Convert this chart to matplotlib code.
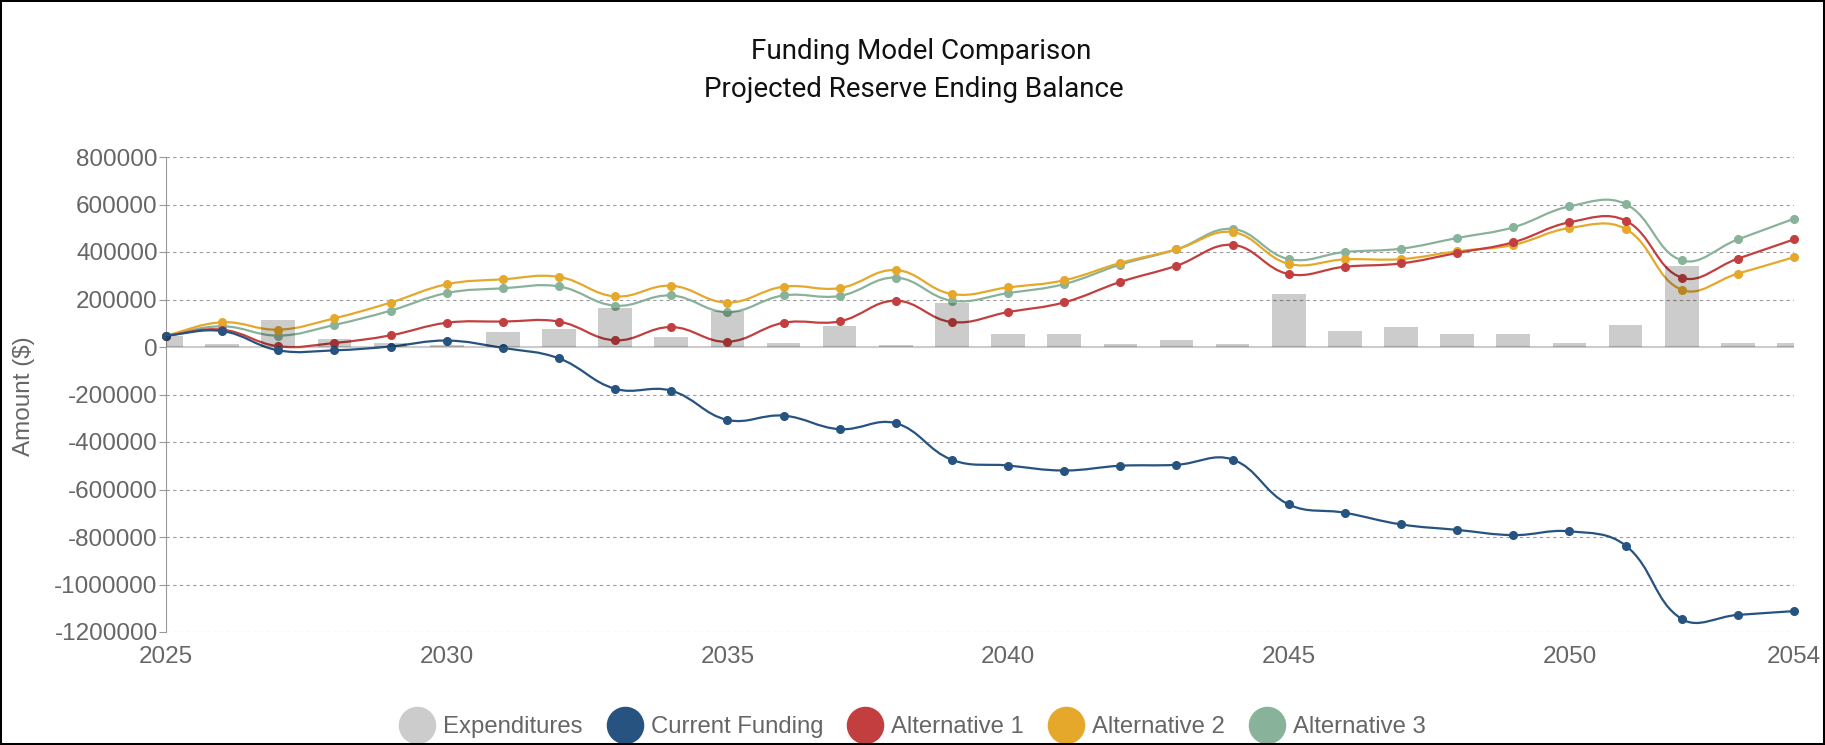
import matplotlib
matplotlib.use('Agg')
import matplotlib.pyplot as plt
import numpy as np
from matplotlib.path import Path
from matplotlib.patches import PathPatch, Rectangle
from matplotlib.lines import Line2D

years = list(range(2025, 2055))

expenditures = [48000, 14000, 115000, 35000, 18000, 10000, 65000, 77000, 166000, 43000,
                153000, 18000, 90000, 10000, 187000, 56000, 56000, 14000, 31000, 14000,
                225000, 69000, 86000, 56000, 56000, 18000, 94000, 342000, 18000, 18000]

current_funding = [48000, 67000, -14000, -14000, 2000, 27000, -4000, -48000, -176000, -184000,
                   -307000, -289000, -346000, -321000, -475000, -499000, -520000, -500000, -496000, -474000,
                   -663000, -698000, -747000, -770000, -792000, -776000, -836000, -1145000, -1128000, -1112000]

alternative_1 = [48000, 73000, 3000, 17000, 49000, 102000, 107000, 107000, 28000, 84000,
                 22000, 102000, 108000, 195000, 105000, 147000, 188000, 274000, 342000, 430000,
                 307000, 338000, 352000, 396000, 441000, 525000, 532000, 292000, 372000, 453000]

alternative_2 = [48000, 104000, 73000, 121000, 187000, 264000, 285000, 295000, 213000, 258000,
                 187000, 254000, 248000, 324000, 223000, 251000, 281000, 354000, 411000, 484000,
                 350000, 369000, 370000, 403000, 430000, 501000, 497000, 241000, 309000, 378000]

alternative_3 = [48000, 87000, 48000, 93000, 153000, 227000, 247000, 255000, 174000, 217000,
                 147000, 217000, 215000, 292000, 195000, 227000, 265000, 347000, 411000, 497000,
                 370000, 400000, 414000, 459000, 504000, 592000, 602000, 365000, 453000, 540000]

series = [
    ('Current Funding', current_funding, '#26537f'),
    ('Alternative 1', alternative_1, '#c33f3f'),
    ('Alternative 2', alternative_2, '#e5a82b'),
    ('Alternative 3', alternative_3, '#89b29a'),
]

fig = plt.figure(figsize=(18.25, 7.45), dpi=100)
ax = fig.add_axes([166/1825, 1-632/745, (1794-166)/1825, 475/745])
ax.set_xlim(2025, 2054)
ax.set_ylim(-1200000, 800000)


def smooth_path(xs, ys, tension=0.4):
    # chart.js style bezier control points, worked out in pixel space
    pts = ax.transData.transform(np.column_stack([xs, ys]))
    n = len(pts)
    verts = [pts[0]]
    codes = [Path.MOVETO]
    cps = []
    for i in range(n):
        prev = pts[max(i-1, 0)]
        cur = pts[i]
        nxt = pts[min(i+1, n-1)]
        d01 = np.hypot(*(cur-prev))
        d12 = np.hypot(*(nxt-cur))
        tot = d01 + d12
        s01 = d01/tot if tot else 0
        s12 = d12/tot if tot else 0
        cps.append((cur - tension*s01*(nxt-prev), cur + tension*s12*(nxt-prev)))
    for i in range(1, n):
        verts += [cps[i-1][1], cps[i][0], pts[i]]
        codes += [Path.CURVE4]*3
    verts = ax.transData.inverted().transform(np.array(verts))
    return Path(verts, codes)


# lines, first series on top
for k, (name, vals, col) in enumerate(series):
    z = 10 - k
    ax.add_patch(PathPatch(smooth_path(years, vals), fill=False, edgecolor=col, lw=1.6, zorder=z))
    ax.plot(years, vals, 'o', color=col, ms=5.5, zorder=z, clip_on=False)

ax.bar(years, expenditures, width=0.6, color=(0, 0, 0, 0.2), zorder=20)

# grid
for v in range(-1200000, 800001, 200000):
    if v == 0:
        ax.axhline(0, color='#cccccc', lw=1.5, zorder=1)
    else:
        ax.axhline(v, color='#9a9a9a', lw=0.8, ls=(0, (3, 3)), zorder=1)

for s in ['top', 'right', 'bottom']:
    ax.spines[s].set_visible(False)
ax.spines['left'].set_color('#999999')
ax.spines['left'].set_linewidth(0.8)

ax.set_yticks(range(-1200000, 800001, 200000))
ax.set_yticklabels([str(v) for v in range(-1200000, 800001, 200000)])
ax.set_xticks([2025, 2030, 2035, 2040, 2045, 2050, 2054])
ax.tick_params(axis='y', length=5, width=0.8, color='#999999', pad=1,
               labelsize=17.5, labelcolor='#666666', labelfontfamily='Liberation Sans')
ax.tick_params(axis='x', length=0, pad=10,
               labelsize=17.5, labelcolor='#666666', labelfontfamily='Liberation Sans')

fig.text(24/1825, 1-396/745, 'Amount ($)', rotation=90, ha='center', va='center',
         fontsize=17.5, color='#666666', family='Liberation Sans')

fig.text(0.5045, 1-59.3/745, 'Funding Model Comparison', ha='center', va='baseline',
         fontsize=20, color='#111111', family='Roboto')
fig.text(0.5006, 1-97/745, 'Projected Reserve Ending Balance', ha='center', va='baseline',
         fontsize=20, color='#111111', family='Roboto')

handles = [Line2D([], [], marker='o', ls='', ms=26, color='#cccccc', label='Expenditures')]
for name, vals, col in series:
    handles.append(Line2D([], [], marker='o', ls='', ms=26, color=col, label=name))
fig.legend(handles=handles, loc='center', bbox_to_anchor=(0.5, 1-727/745), ncol=5,
           frameon=False, handlelength=1.5, handletextpad=0.35, columnspacing=1.0,
           borderaxespad=0, borderpad=0,
           prop={'family': 'Liberation Sans', 'size': 17.2}, labelcolor='#666666')

fig.patches.append(Rectangle((0, 0), 1, 1, transform=fig.transFigure, fill=False,
                             edgecolor='black', lw=2.9, zorder=100))

fig.savefig('out.png', dpi=100)
